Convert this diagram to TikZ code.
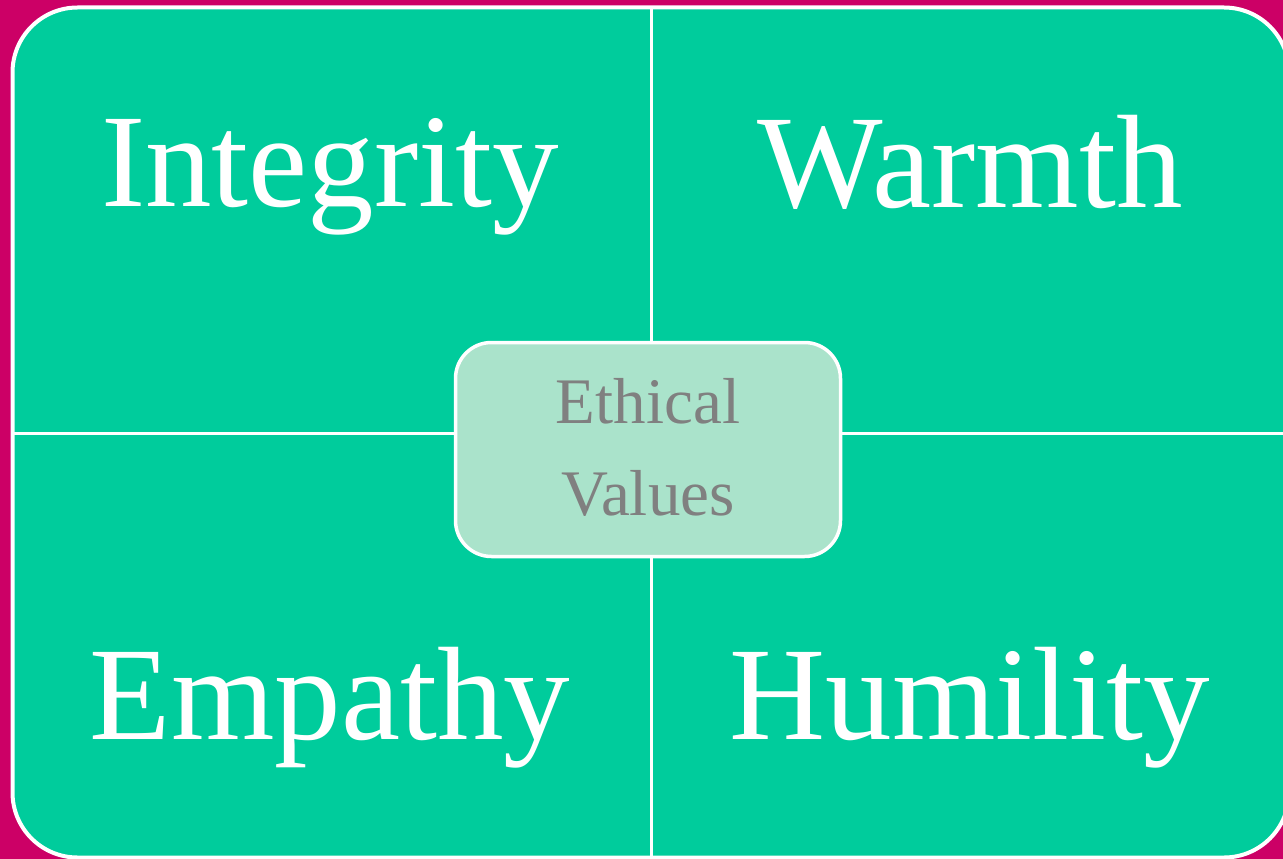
\documentclass[tikz,border=0pt]{standalone}
\usepackage{fontspec}
\setmainfont{Liberation Serif}
\definecolor{bgmag}{HTML}{CC0066}
\definecolor{tilegreen}{HTML}{00CC9C}
\definecolor{centerfill}{HTML}{AAE3CB}
\definecolor{labelgray}{HTML}{808080}
\tikzset{
  bigword/.style={anchor=base, inner sep=0pt, text=white, font=\fontsize{133}{140}\selectfont},
  smallword/.style={anchor=base, inner sep=0pt, text=labelgray, font=\fontsize{65}{70}\selectfont},
  divider/.style={draw=white, line width=3pt},
  centerbox/.style={draw=white, line width=3.5pt, fill=centerfill, rounded corners=36pt,
    minimum width=385pt, minimum height=214pt, inner sep=0pt},
}
\begin{document}
\begin{tikzpicture}[x=1pt,y=-1pt]
\useasboundingbox (0,0) rectangle (1283,859);
\clip (0,0) rectangle (1283,859);
\fill[bgmag] (0,0) rectangle (1283,859);
\draw[white, line width=4pt, fill=tilegreen, rounded corners=65pt] (12.5,7.5) rectangle (1289,857.5);
\coordinate (top) at (651,7.5);
\coordinate (bottom) at (651,857.5);
\coordinate (left) at (12.5,433.5);
\coordinate (right) at (1289,433.5);
\draw[divider] (top) -- (bottom);
\draw[divider] (left) -- (right);
\node[centerbox] (box) at (648,449.5) {};
\node[smallword] (ethical) at (648,423) {Ethical};
\node[smallword] (values) at (648,515) {Values};
\node[bigword] (integrity) at (330,206) {Integrity};
\node[bigword] (warmth) at (970,207) {Warmth};
\node[bigword] (empathy) at (330,739) {Empathy};
\node[bigword] (humility) at (970,739) {Humility};
\end{tikzpicture}
\end{document}
